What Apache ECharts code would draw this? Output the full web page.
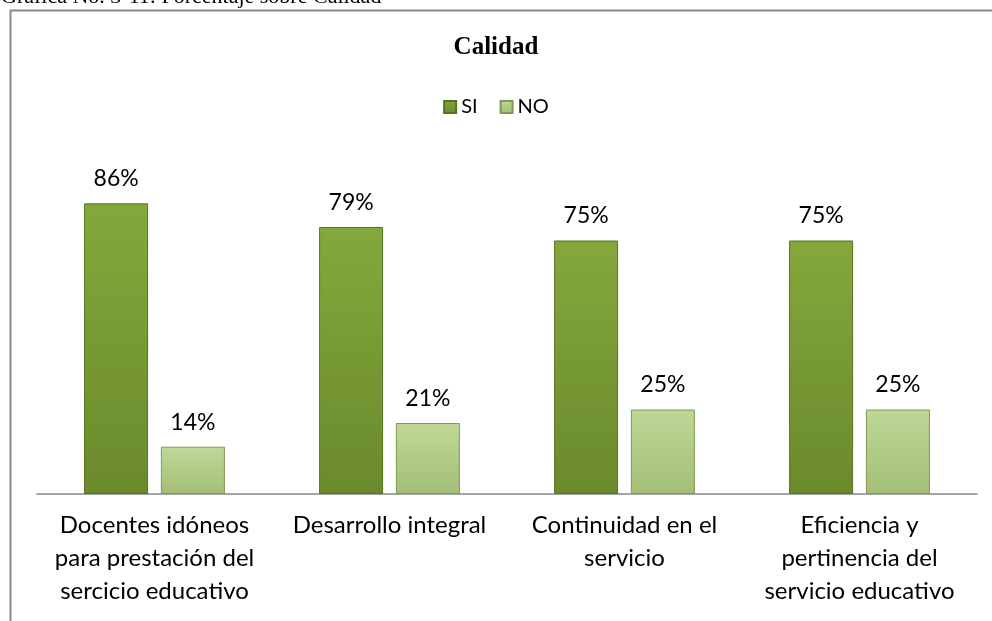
<!DOCTYPE html>
<html><head><meta charset="utf-8">
<script src="https://cdn.jsdelivr.net/npm/echarts@6/dist/echarts.min.js"></script>
<style>html,body{margin:0;padding:0;background:#fff}#c{width:992px;height:621px}</style>
</head><body><div id="c"></div>
<script>
const categories = ['Docentes idóneos\npara prestación del\nsercicio educativo', 'Desarrollo integral', 'Continuidad en el\nservicio', 'Eficiencia y\npertinencia del\nservicio educativo'];
const siValues = [86, 79, 75, 75];
const noValues = [14, 21, 25, 25];
const seriesNames = ['SI', 'NO'];
const chartTitle = 'Calidad';
const caption = 'Gráfica No. 3-11: Porcentaje sobre Calidad';

const chart = echarts.init(document.getElementById('c'), null, {renderer: 'canvas'});
const font = 'Lato, "Open Sans", sans-serif';
const siColor = {type: 'linear', x: 0, y: 0, x2: 0, y2: 1, colorStops: [{offset: 0, color: '#84a83c'}, {offset: 1, color: '#6a8a2c'}]};
const noColor = {type: 'linear', x: 0, y: 0, x2: 0, y2: 1, colorStops: [{offset: 0, color: '#bfd898'}, {offset: 1, color: '#a3bf76'}]};
chart.setOption({
  animation: false,
  backgroundColor: '#fff',
  title: {text: chartTitle, left: 'center', top: 30, textStyle: {fontFamily: '"Liberation Serif", "Times New Roman", serif', fontWeight: 'bold', fontSize: 25, color: '#000'}},
  legend: {top: 92, left: 'center', itemWidth: 12, itemHeight: 12, itemGap: 22, icon: 'rect',
    textStyle: {fontFamily: font, fontSize: 20, color: '#000'}, data: seriesNames},
  graphic: [
    {type: 'rect', left: 8, top: 8, shape: {width: 1100, height: 700}, style: {fill: 'none', stroke: '#8a8a8a', lineWidth: 2}, z: -1},
    {type: 'text', left: 1, top: -14, style: {text: caption, font: '22px "Liberation Serif", "Times New Roman", serif', fill: '#000'}}
  ],
  grid: {left: 37, right: 15, top: 156, bottom: 127},
  xAxis: {type: 'category', data: categories,
    axisLine: {lineStyle: {color: '#888', width: 1.5}}, axisTick: {show: false},
    axisLabel: {fontFamily: font, fontSize: 24, color: '#000', lineHeight: 33, margin: 15, interval: 0, align: 'center'}},
  yAxis: {type: 'value', min: 0, max: 100, show: false, splitLine: {show: false}},
  series: [
    {name: seriesNames[0], type: 'bar', data: siValues, barWidth: 64, barGap: '20%',
     itemStyle: {color: siColor, borderColor: '#56731f', borderWidth: 1},
     label: {show: true, position: 'top', distance: 13, formatter: '{c}%', fontFamily: font, fontSize: 23, color: '#000'}},
    {name: seriesNames[1], type: 'bar', data: noValues, barWidth: 64,
     itemStyle: {color: noColor, borderColor: '#7f9a52', borderWidth: 1},
     label: {show: true, position: 'top', distance: 13, formatter: '{c}%', fontFamily: font, fontSize: 23, color: '#000'}}
  ]
});
</script></body></html>
